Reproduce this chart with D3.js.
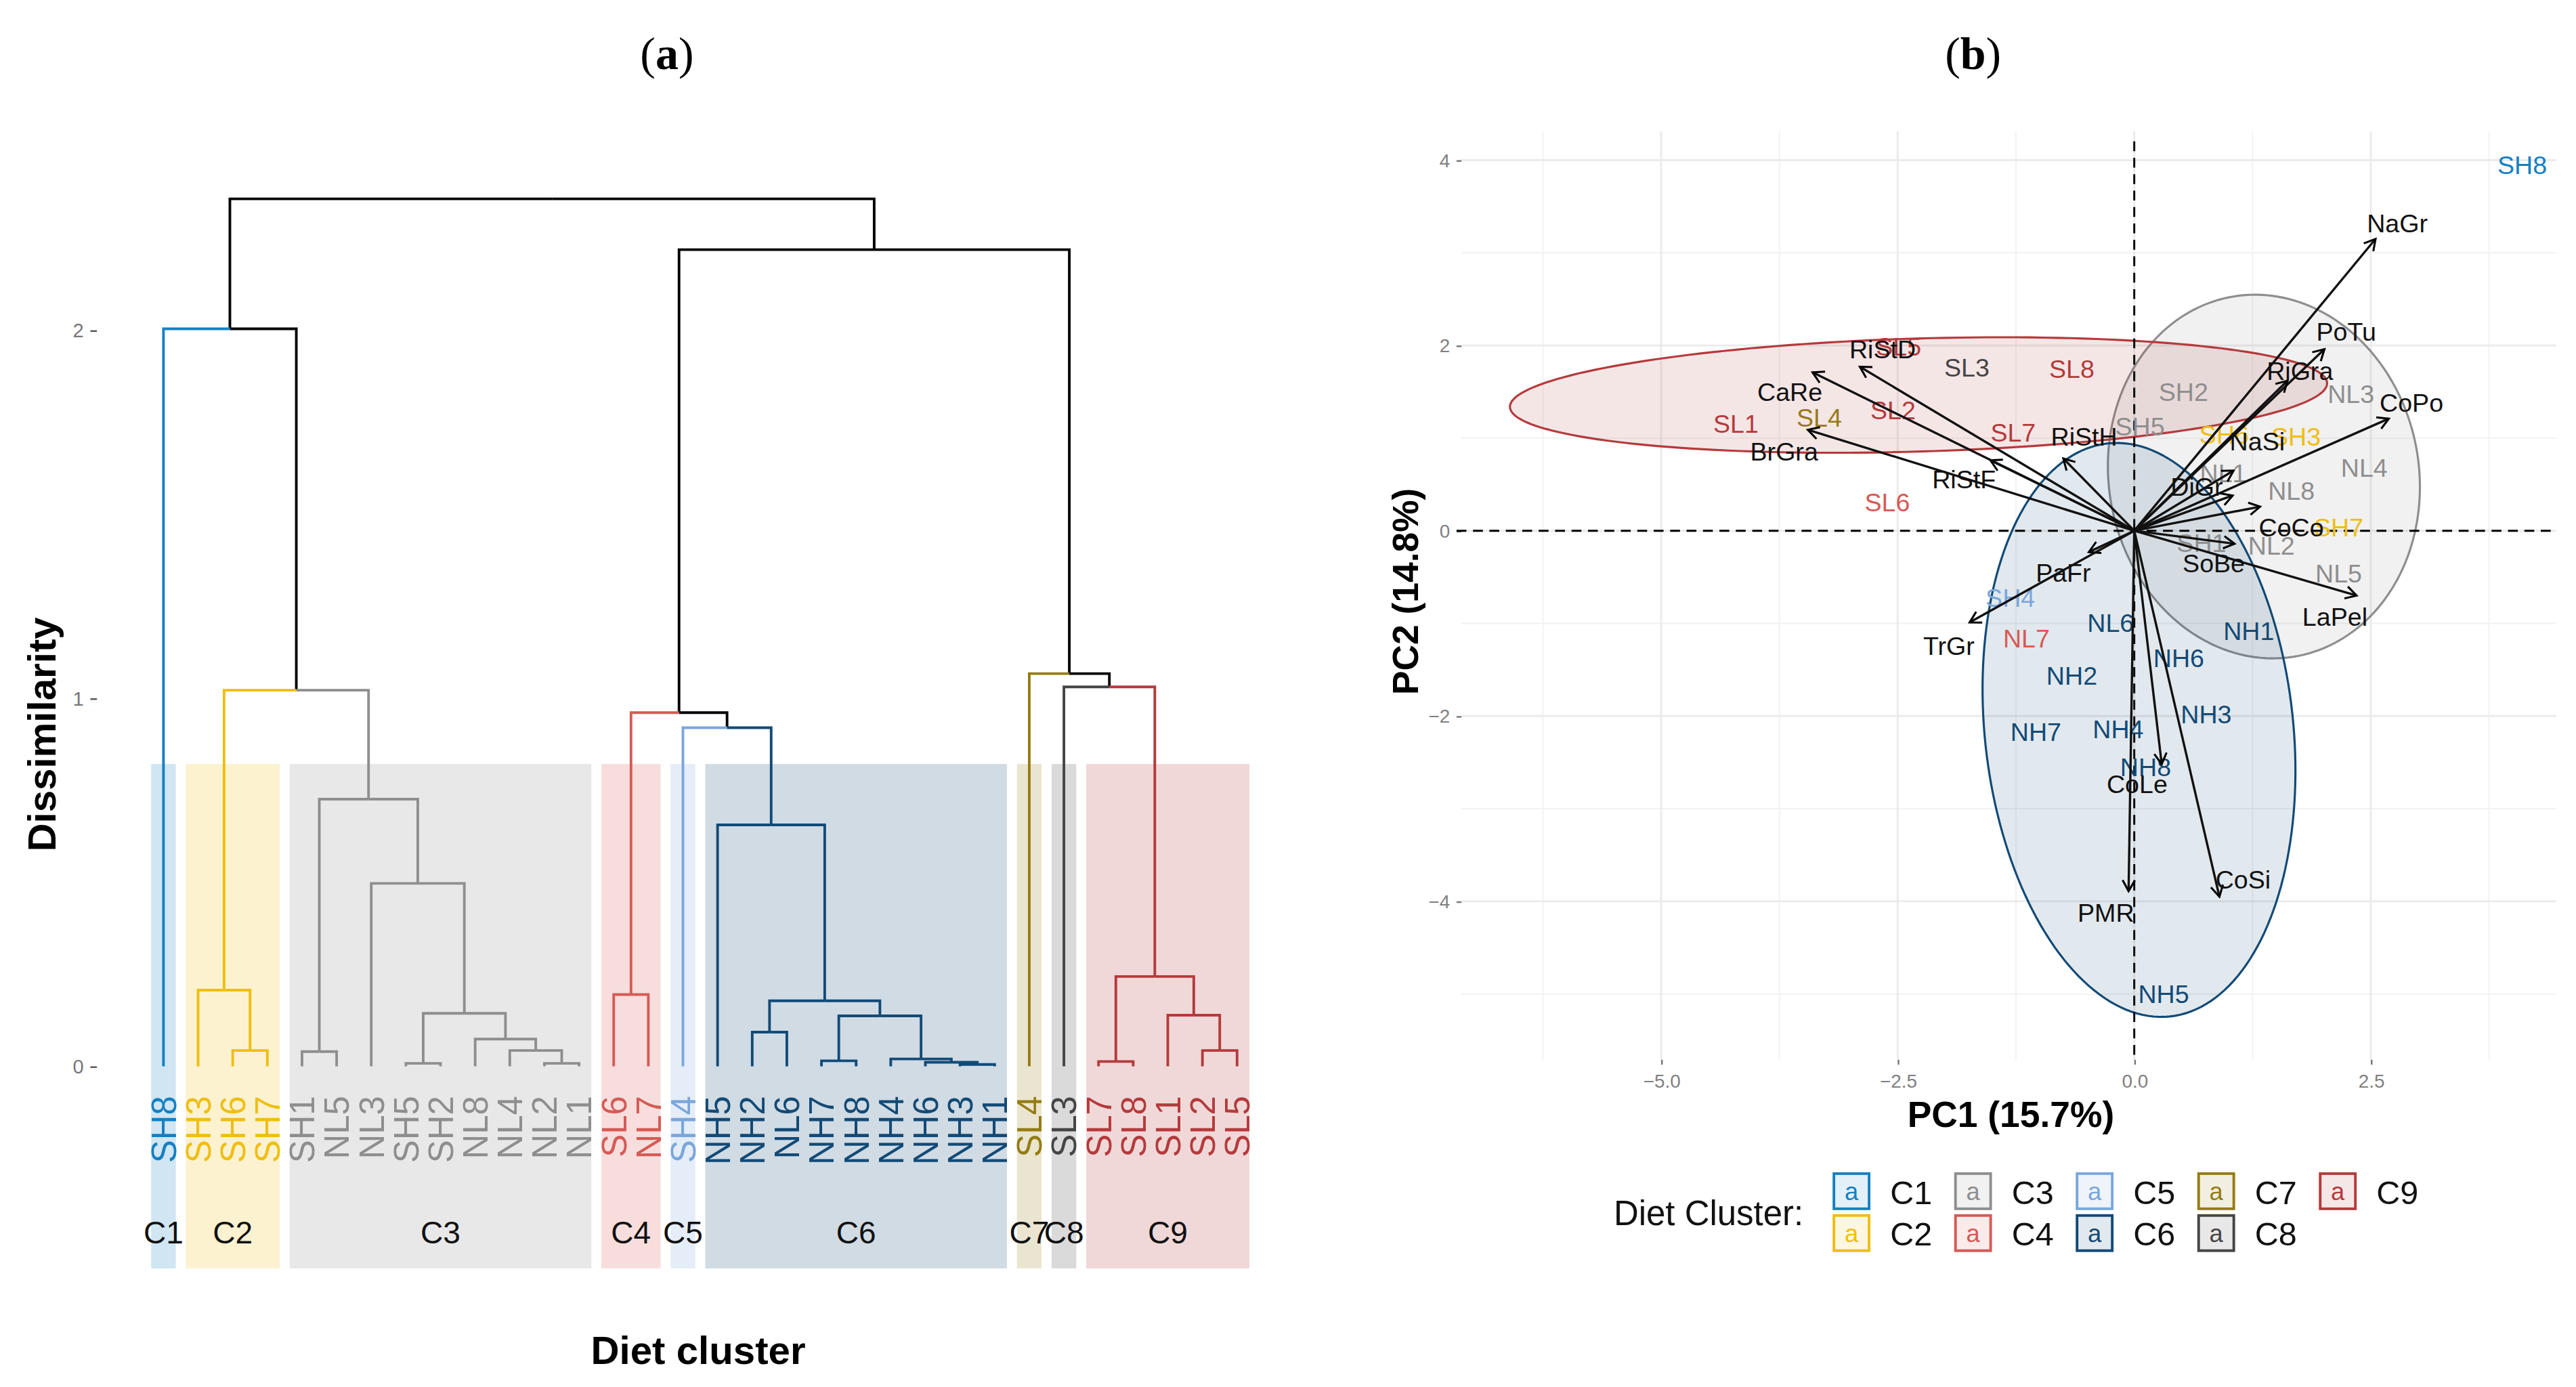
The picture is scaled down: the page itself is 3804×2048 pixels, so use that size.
<!DOCTYPE html>
<html><head><meta charset="utf-8">
<script src="https://cdn.jsdelivr.net/npm/d3@7"></script>
<style>
html,body{margin:0;padding:0;background:#fff;}
svg{display:block;font-family:"Liberation Sans",Arial,Helvetica,sans-serif;}
</style></head><body>
<svg id="fig"></svg>
<script>
// ---------- (a) dendrogram data ----------
const leaves = ["SH8","SH3","SH6","SH7","SH1","NL5","NL3","SH5","SH2","NL8","NL4","NL2","NL1",
  "SL6","NL7","SH4","NH5","NH2","NL6","NH7","NH8","NH4","NH6","NH3","NH1","SL4","SL3","SL7","SL8","SL1","SL2","SL5"]
const leafCluster = [1,2,2,2,3,3,3,3,3,3,3,3,3,4,4,5,6,6,6,6,6,6,6,6,6,7,8,9,9,9,9,9]
// [left, right, height] ; numbers point to earlier merges
const merges = [
  ["SH6","SH7",0.043], ["SH3",0,0.207],
  ["SH1","NL5",0.04], ["SH5","SH2",0.008], ["NL2","NL1",0.008], ["NL4",4,0.043],
  ["NL8",5,0.074], [3,6,0.144], ["NL3",7,0.497], [2,8,0.726],
  [1,9,1.022], ["SH8",10,2.004],
  ["SL6","NL7",0.195], ["NH2","NL6",0.093], ["NH7","NH8",0.015], ["NH3","NH1",0.005],
  ["NH6",15,0.011], ["NH4",16,0.02], [14,17,0.137], [13,18,0.178], ["NH5",19,0.656],
  ["SH4",20,0.92], [12,21,0.961],
  ["SL7","SL8",0.013], ["SL2","SL5",0.043], ["SL1",24,0.139], [23,25,0.244],
  ["SL3",26,1.031], ["SL4",27,1.067], [22,28,2.219], [11,29,2.357]
]
const dissimTicks = [0,1,2]

const clusterNames = ["C1","C2","C3","C4","C5","C6","C7","C8","C9"]
const clusterColors = ["#1580c2","#efbe10","#8e8e8e","#d65a55","#7aa6dc","#124a76","#957c12","#454545","#b53a3c"]

// ---------- (b) PCA biplot data ----------
const obsNames = ["SH8","SL5","SL3","SL8","SL1","SL4","SL2","SL7","SL6","NL7","SH2","SH5","NL3","NL4","NL8","NL1",
  "NL2","NL5","SH1","SH6","SH3","SH7","SH4","NL6","NH1","NH6","NH2","NH3","NH7","NH4","NH8","NH5"]
const obsCluster = [1,9,8,9,9,7,9,9,4,4,3,3,3,3,3,3,3,3,3,2,2,2,5,6,6,6,6,6,6,6,6,6]
const obsPC1 = [4.10,-2.49,-1.77,-0.66,-4.21,-3.33,-2.55,-1.28,-2.61,-1.14,0.52,0.06,2.29,2.43,1.66,0.94,
  1.45,2.16,0.71,0.95,1.71,2.16,-1.31,-0.25,1.21,0.47,-0.66,0.76,-1.04,-0.17,0.12,0.31]
const obsPC2 = [3.95,1.99,1.76,1.75,1.16,1.22,1.30,1.06,0.31,-1.16,1.50,1.13,1.48,0.68,0.43,0.62,
  -0.16,-0.46,-0.13,1.04,1.02,0.04,-0.72,-0.99,-1.08,-1.37,-1.56,-1.98,-2.17,-2.14,-2.55,-5.00]

const varNames = ["NaGr","PoTu","RiGra","CoPo","NaSi","DiGr","CoCo","SoBe","LaPel","PaFr","TrGr","CoLe","PMR","CoSi",
  "RiStH","RiStF","RiStD","CaRe","BrGra"]
const varPC1 = [2.55,2.01,1.62,2.69,1.05,1.04,1.33,1.06,2.35,-0.48,-1.74,0.29,-0.06,0.90,-0.75,-1.52,-2.90,-3.40,-3.45]
const varPC2 = [3.15,1.96,1.62,1.21,0.65,0.38,0.26,-0.14,-0.70,-0.23,-0.99,-2.52,-3.89,-3.95,0.78,0.76,1.77,1.71,1.09]
const varLabPC1 = [2.78,2.24,1.75,2.93,1.30,0.66,1.66,0.84,2.12,-0.75,-1.96,0.03,-0.30,1.15,-0.53,-1.80,-2.66,-3.64,-3.70]
const varLabPC2 = [3.32,2.15,1.73,1.38,0.97,0.48,0.04,-0.35,-0.93,-0.45,-1.24,-2.73,-4.12,-3.76,1.02,0.56,1.96,1.50,0.86]

// confidence ellipses: cluster, centre, semi-axes, angle (deg)
const ellCluster = [3,6,9]
const ellCx = [1.37,0.05,-2.28]
const ellCy = [0.585,-2.15,1.465]
const ellA = [1.97,3.11,4.32]
const ellB = [1.64,1.63,0.61]
const ellAngle = [99,96,1.72]

const pc1Ticks = [-5,-2.5,0,2.5]
const pc2Ticks = [-4,-2,0,2,4]

// ---------- canvas ----------
const W = 1568, H = 3804/2048 ? 2048*1568/3804 : 845
const svg = d3.select("#fig").attr("width",3804).attr("height",2048)
  .attr("viewBox",`0 0 ${W} ${H}`)

const col = c => c ? clusterColors[c-1] : "#000"

// titles
const title = (x,letter)=>{
  const t = svg.append("text").attr("x",x).attr("y",42).attr("text-anchor","middle")
    .style("font-family","'Liberation Serif','Times New Roman',serif").style("font-size","28px")
  t.append("tspan").text("(")
  t.append("tspan").style("font-weight","bold").text(letter)
  t.append("tspan").text(")")
}
title(406,"a")
title(1201,"b")

// ================= (a) =================
const gA = svg.append("g")
const leafX = d3.scalePoint().domain(leaves).range([99.5,753])
const hY = d3.scaleLinear().domain([0,2]).range([649,201])

// cluster bands
clusterNames.forEach((nm,k)=>{
  const xs = leaves.filter((d,i)=>leafCluster[i]===k+1).map(leafX)
  const x0 = d3.min(xs)-7.5, x1 = d3.max(xs)+7.5
  gA.append("rect").attr("x",x0).attr("y",465).attr("width",x1-x0).attr("height",307)
    .attr("fill",clusterColors[k]).attr("fill-opacity",0.2)
  gA.append("text").attr("x",(x0+x1)/2).attr("y",757).attr("text-anchor","middle")
    .style("font-size","19px").attr("fill","#111").text(nm)
})

// tree
const nodes = []
const getNode = r => {
  if(typeof r==="string"){ const i = leaves.indexOf(r); return {x:leafX(r),h:0,cl:leafCluster[i]} }
  return nodes[r]
}
merges.forEach(([a,b,h])=>{
  const L = getNode(a), R = getNode(b)
  nodes.push({x:(L.x+R.x)/2,h,cl:L.cl===R.cl?L.cl:0,L,R})
})
const segs = []
nodes.forEach(n=>[n.L,n.R].forEach(c=>segs.push({n,c})))
segs.sort((p,q)=>(p.c.cl?1:0)-(q.c.cl?1:0))
gA.selectAll("path.br").data(segs).enter().append("path").attr("class","br")
  .attr("d",d=>`M${d.c.x},${hY(d.c.h)}V${hY(d.n.h)}H${d.n.x}`)
  .attr("fill","none").attr("stroke",d=>col(d.c.cl)).attr("stroke-width",1.6)

// leaf labels
gA.selectAll("text.leaf").data(leaves).enter().append("text").attr("class","leaf")
  .attr("transform",d=>`translate(${leafX(d)},667) rotate(-90)`)
  .attr("text-anchor","end").attr("dy","0.36em")
  .style("font-size","21px").attr("fill",(d,i)=>col(leafCluster[i])).text(d=>d)

// y axis
const axA = gA.append("g").attr("transform","translate(59,0)")
  .call(d3.axisLeft(hY).tickValues(dissimTicks).tickSize(4).tickPadding(4).tickFormat(d3.format("d")))
axA.select(".domain").remove()
axA.selectAll("text").style("font-size","12px").attr("fill","#777").style("font-family","'Liberation Sans',Arial")
axA.selectAll("line").attr("stroke","#555")

gA.append("text").attr("transform","translate(34,447) rotate(-90)").attr("text-anchor","middle")
  .style("font-size","24px").style("font-weight","bold").text("Dissimilarity")
gA.append("text").attr("x",425).attr("y",830).attr("text-anchor","middle")
  .style("font-size","24px").style("font-weight","bold").text("Diet cluster")

// ================= (b) =================
const gB = svg.append("g")
const xB = d3.scaleLinear().domain([-7.11,4.46]).range([889.6,1556])
const yB = d3.scaleLinear().domain([-5.71,4.31]).range([645,80])
const [bx0,bx1] = xB.range(), [by1,by0] = yB.range()

const minorX = pc1Ticks.map(t=>t-1.25).concat([pc1Ticks[pc1Ticks.length-1]+1.25]).concat([pc1Ticks[0]-1.25-2.5])
  .filter(v=>v>xB.domain()[0]&&v<xB.domain()[1])
const minorY = pc2Ticks.map(t=>t-1).concat([pc2Ticks[pc2Ticks.length-1]+1]).filter(v=>v>yB.domain()[0]&&v<yB.domain()[1])
const grid = gB.append("g")
grid.selectAll("line.mx").data(minorX).enter().append("line")
  .attr("x1",xB).attr("x2",xB).attr("y1",by0).attr("y2",by1).attr("stroke","#f2f2f2").attr("stroke-width",0.8)
grid.selectAll("line.my").data(minorY).enter().append("line")
  .attr("y1",yB).attr("y2",yB).attr("x1",bx0).attr("x2",bx1).attr("stroke","#f2f2f2").attr("stroke-width",0.8)
grid.selectAll("line.gx").data(pc1Ticks).enter().append("line")
  .attr("x1",xB).attr("x2",xB).attr("y1",by0).attr("y2",by1).attr("stroke","#ebebeb").attr("stroke-width",1.2)
grid.selectAll("line.gy").data(pc2Ticks).enter().append("line")
  .attr("y1",yB).attr("y2",yB).attr("x1",bx0).attr("x2",bx1).attr("stroke","#ebebeb").attr("stroke-width",1.2)

// axes
const axX = gB.append("g").attr("transform",`translate(0,${by1})`)
  .call(d3.axisBottom(xB).tickValues(pc1Ticks).tickSize(3).tickPadding(6).tickFormat(d3.format(".1f")))
const axY = gB.append("g").attr("transform",`translate(${bx0},0)`)
  .call(d3.axisLeft(yB).tickValues(pc2Ticks).tickSize(3).tickPadding(4).tickFormat(d3.format("d")))
;[axX,axY].forEach(a=>{
  a.select(".domain").remove()
  a.selectAll("text").style("font-size","11.5px").attr("fill","#808080").style("font-family","'Liberation Sans',Arial")
  a.selectAll("line").attr("stroke","#777")
})

// ellipses
const tt = d3.range(0,2*Math.PI+0.01,Math.PI/90)
const ellLine = d3.line().x(p=>xB(p[0])).y(p=>yB(p[1])).curve(d3.curveLinearClosed)
ellCluster.forEach((c,i)=>{
  const th = ellAngle[i]*Math.PI/180
  const pts = tt.map(t=>[
    ellCx[i]+ellA[i]*Math.cos(t)*Math.cos(th)-ellB[i]*Math.sin(t)*Math.sin(th),
    ellCy[i]+ellA[i]*Math.cos(t)*Math.sin(th)+ellB[i]*Math.sin(t)*Math.cos(th)])
  gB.append("path").attr("d",ellLine(pts)).attr("fill",col(c)).attr("fill-opacity",c===9?0.13:0.12)
    .attr("stroke",col(c)).attr("stroke-width",1.3)
})

// reference lines
gB.append("line").attr("x1",xB(0)).attr("x2",xB(0)).attr("y1",by0+6).attr("y2",by1)
  .attr("stroke","#000").attr("stroke-width",1.2).attr("stroke-dasharray","6,4")
gB.append("line").attr("y1",yB(0)).attr("y2",yB(0)).attr("x1",bx0-3).attr("x2",bx1)
  .attr("stroke","#000").attr("stroke-width",1.2).attr("stroke-dasharray","6,4")

// observation labels
gB.selectAll("text.obs").data(obsNames).enter().append("text").attr("class","obs")
  .attr("x",(d,i)=>xB(obsPC1[i])).attr("y",(d,i)=>yB(obsPC2[i])).attr("dy","0.36em")
  .attr("text-anchor","middle").style("font-size","15.5px")
  .attr("fill",(d,i)=>col(obsCluster[i])).text(d=>d)

// variable arrows
svg.append("defs").append("marker").attr("id","ah").attr("viewBox","-10 -6 12 12")
  .attr("refX",0).attr("refY",0).attr("markerWidth",10).attr("markerHeight",10)
  .attr("markerUnits","userSpaceOnUse").attr("orient","auto")
  .append("path").attr("d","M-8,-4.5L0,0L-8,4.5").attr("fill","none").attr("stroke","#000").attr("stroke-width",1.5)
gB.selectAll("line.var").data(varNames).enter().append("line").attr("class","var")
  .attr("x1",xB(0)).attr("y1",yB(0)).attr("x2",(d,i)=>xB(varPC1[i])).attr("y2",(d,i)=>yB(varPC2[i]))
  .attr("stroke","#111").attr("stroke-width",1.4).attr("marker-end","url(#ah)")
gB.selectAll("text.var").data(varNames).enter().append("text").attr("class","var")
  .attr("x",(d,i)=>xB(varLabPC1[i])).attr("y",(d,i)=>yB(varLabPC2[i])).attr("dy","0.36em")
  .attr("text-anchor","middle").style("font-size","15.5px").attr("fill","#111").text(d=>d)

// axis titles
gB.append("text").attr("x",1224).attr("y",686).attr("text-anchor","middle")
  .style("font-size","22px").style("font-weight","bold").text("PC1 (15.7%)")
gB.append("text").attr("transform","translate(863,360) rotate(-90)").attr("text-anchor","middle")
  .style("font-size","22px").style("font-weight","bold").text("PC2 (14.8%)")

// legend
const lg = gB.append("g")
lg.append("text").attr("x",1040).attr("y",738).attr("dy","0.36em").attr("text-anchor","middle")
  .style("font-size","21px").attr("fill","#111").text("Diet Cluster:")
const keys = lg.selectAll("g.key").data(clusterNames).enter().append("g").attr("class","key")
  .attr("transform",(d,i)=>`translate(${1115.5+Math.floor(i/2)*74},${713.5+(i%2)*25.5})`)
keys.append("rect").attr("width",23).attr("height",23).attr("fill",(d,i)=>col(i+1)).attr("fill-opacity",0.12)
keys.append("rect").attr("x",0.8).attr("y",0.8).attr("width",21.4).attr("height",21.4).attr("fill","none")
  .attr("stroke",(d,i)=>col(i+1)).attr("stroke-width",1.6)
keys.append("text").attr("x",11.5).attr("y",11.5).attr("dy","0.36em").attr("text-anchor","middle")
  .style("font-size","15px").attr("fill",(d,i)=>col(i+1)).text("a")
keys.append("text").attr("x",35).attr("y",12).attr("dy","0.36em")
  .style("font-size","20px").attr("fill","#111").text(d=>d)
</script>
</body></html>
